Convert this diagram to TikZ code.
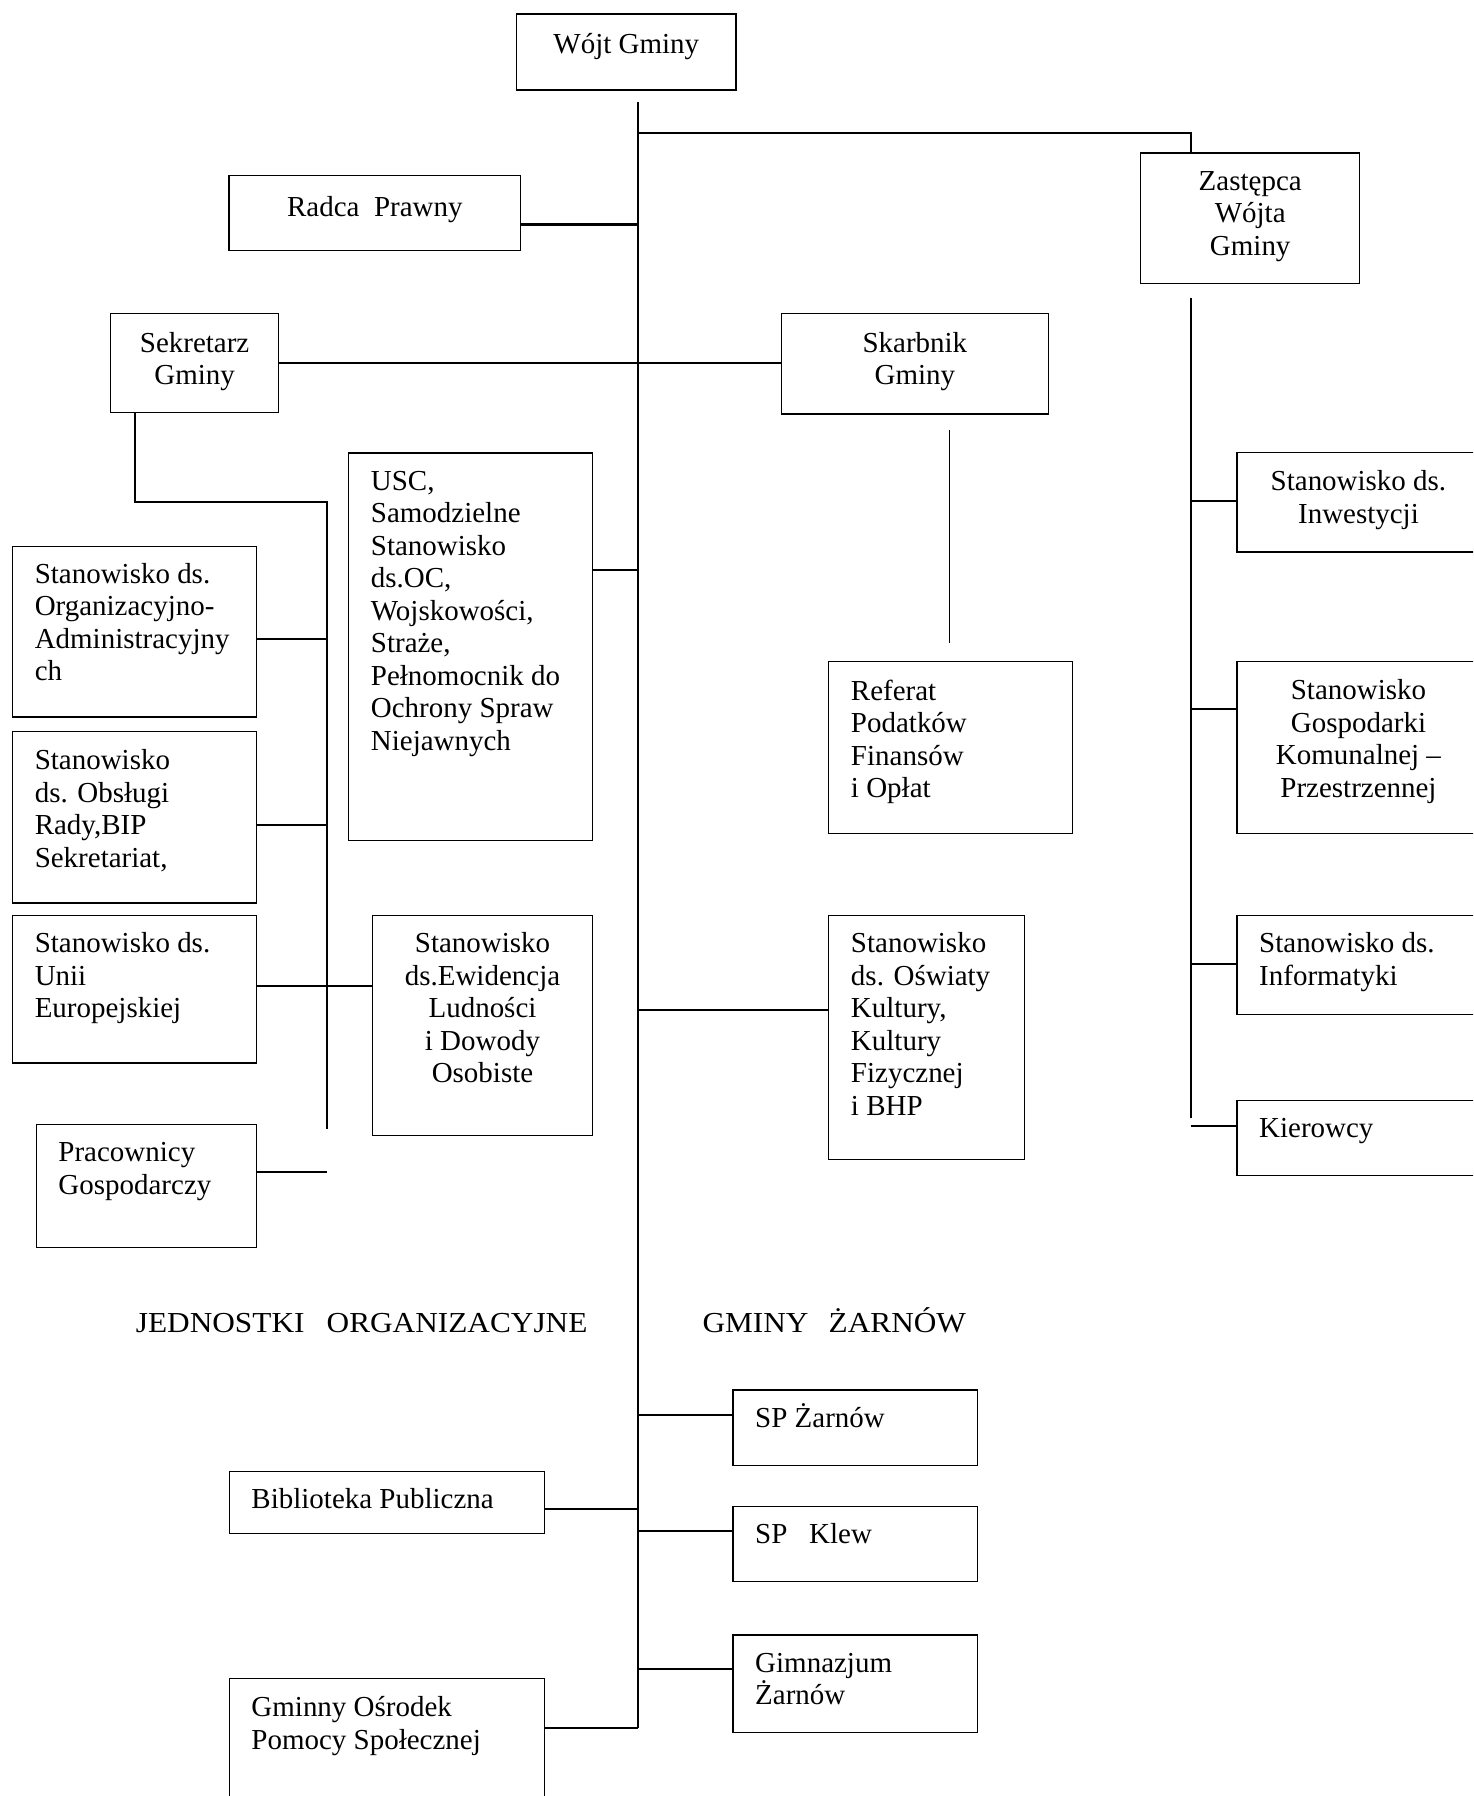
\documentclass[tikz,border=0pt]{standalone}
\usepackage{fontspec}
\setmainfont{Liberation Serif}
\newfontfamily\capsfont{Liberation Serif}[FakeStretch=1.08]
\usetikzlibrary{fit,calc}

\begin{document}
\begin{tikzpicture}[x=0.02cm, y=-0.02cm,
        box/.style={draw, line width=0.6pt, inner sep=0pt, outer sep=0pt},
        txt/.style={inner sep=0pt, font=\fontsize{14.4}{16.15}\selectfont,
            execute at begin node={\rule{0pt}{14pt}}},
        lft/.style={txt, align=left, anchor=north west},
        mid/.style={txt, align=center, anchor=north},
        conn/.style={line width=1pt},
        stub/.style={line width=0.6pt}]
    \useasboundingbox (0,0) rectangle (1286,1568);
    \clip (0,0) rectangle (1286,1568);

    % zarzad
    \node[box, fit={(451,12.2) (642.6,78.6)}] (wojt) {};
    \node[mid] (wojt-t) at ($(wojt.north)+(0,9.3)$) {Wójt Gminy};
    \node[box, fit={(200,153) (454.5,219)}] (radca) {};
    \node[mid] (radca-t) at ($(radca.north)+(0,10.9)$) {Radca\ \ Prawny};
    \node[box, fit={(996,133.6) (1187,247.7)}] (zastepca) {};
    \node[mid] (zastepca-t) at ($(zastepca.north)+(0,15.5)$) {Zastępca\\Wójta\\Gminy};
    \node[box, fit={(96.8,274) (243,360)}] (sekretarz) {};
    \node[mid] (sekretarz-t) at ($(sekretarz.north)+(0,15.5)$) {Sekretarz\\Gminy};
    \node[box, fit={(682,274) (915.5,361.4)}] (skarbnik) {};
    \node[mid] (skarbnik-t) at ($(skarbnik.north)+(0,15.5)$) {Skarbnik\\Gminy};

    % stanowiska
    \node[box, fit={(304.5,395.4) (517,733.7)}] (usc) {};
    \node[lft] (usc-t) at ($(usc.north west)+(19,15.3)$)
        {USC,\\Samodzielne\\Stanowisko\\ds.OC,\\Wojskowości,\\Straże,\\Pełnomocnik do\\Ochrony Spraw\\Niejawnych};
    \node[box, fit={(11,477) (224,626)}] (orgadm) {};
    \node[lft] (orgadm-t) at ($(orgadm.north west)+(19,14.5)$)
        {Stanowisko ds.\\Organizacyjno-\\Administracyjny\\ch};
    \node[box, fit={(11,638.6) (224,788.3)}] (obslugi) {};
    \node[lft] (obslugi-t) at ($(obslugi.north west)+(19,15.3)$)
        {Stanowisko\\ds. Obsługi\\Rady,BIP\\Sekretariat,};
    \node[box, fit={(11,799) (224,928)}] (unii) {};
    \node[lft] (unii-t) at ($(unii.north west)+(19,14.8)$) {Stanowisko ds.\\Unii\\Europejskiej};
    \node[box, fit={(325.5,799) (517,991)}] (ewid) {};
    \node[mid] (ewid-t) at ($(ewid.north)+(0,14.8)$)
        {Stanowisko\\ds.Ewidencja\\Ludności\\i Dowody\\Osobiste};
    \node[box, fit={(31.7,981.6) (223.7,1089.3)}] (prac) {};
    \node[lft] (prac-t) at ($(prac.north west)+(19,15.5)$) {Pracownicy\\Gospodarczy};
    \node[box, fit={(723.6,577.8) (936.3,727.5)}] (referat) {};
    \node[lft] (referat-t) at ($(referat.north west)+(19,15.3)$)
        {Referat\\Podatków\\Finansów\\i Opłat};
    \node[box, fit={(723.6,799) (894.6,1012)}] (oswiaty) {};
    \node[lft] (oswiaty-t) at ($(oswiaty.north west)+(19,14.8)$)
        {Stanowisko\\ds. Oświaty\\Kultury,\\Kultury\\Fizycznej\\i BHP};
    \node[box, fit={(1080,395) (1292,482)}] (inwest) {};
    \node[mid] (inwest-t) at ($(inwest.north)+(0,15.5)$) {Stanowisko ds.\\Inwestycji};
    \node[box, fit={(1080,577.8) (1292,727.5)}] (gospod) {};
    \node[mid] (gospod-t) at ($(gospod.north)+(0,15.3)$)
        {Stanowisko\\Gospodarki\\Komunalnej –\\Przestrzennej};
    \node[box, fit={(1080,799) (1292,885.6)}] (inform) {};
    \node[lft] (inform-t) at ($(inform.north west)+(19,14.8)$) {Stanowisko ds.\\Informatyki};
    \node[box, fit={(1080,961) (1292,1026.4)}] (kier) {};
    \node[lft] (kier-t) at ($(kier.north west)+(19,7.3)$) {Kierowcy};

    % jednostki
    \node[txt, anchor=base west, font=\capsfont\fontsize{14.4}{16.15}\selectfont] (jedn)
        at (118.3,1163.5) {JEDNOSTKI\hspace{11pt}ORGANIZACYJNE};
    \node[txt, anchor=base west, font=\capsfont\fontsize{14.4}{16.15}\selectfont] (gminy)
        at (613,1163.5) {GMINY\hspace{10pt}ŻARNÓW};
    \node[box, fit={(640,1213.6) (853.3,1279.6)}] (spzarnow) {};
    \node[lft] (spzarnow-t) at ($(spzarnow.north west)+(19,7.8)$) {SP Żarnów};
    \node[box, fit={(640,1315) (853.3,1381)}] (spklew) {};
    \node[lft] (spklew-t) at ($(spklew.north west)+(19,7.3)$) {SP\ \ \ Klew};
    \node[box, fit={(640,1427.5) (853.3,1512.4)}] (gimn) {};
    \node[lft] (gimn-t) at ($(gimn.north west)+(19,15.3)$) {Gimnazjum\\Żarnów};
    \node[box, fit={(200.2,1284.6) (475.1,1339)}] (biblio) {};
    \node[lft] (biblio-t) at ($(biblio.north west)+(19,7.7)$) {Biblioteka Publiczna};
    \node[box, fit={(200.2,1465.6) (475.1,1600)}] (gops) {};
    \node[lft] (gops-t) at ($(gops.north west)+(19,15.2)$) {Gminny Ośrodek\\Pomocy Społecznej};

    % linie
    \coordinate (spinetop) at (557,89);
    \coordinate (spinebot) at (557,1509);
    \coordinate (sekbus) at (285.5,438);
    \coordinate (sekbusend) at (285.5,986);
    \coordinate (zastbus) at (1040,260);
    \coordinate (zastbusend) at (1040,976);
    \coordinate (skarbtop) at (829,375);
    \coordinate (skarbbot) at (829,561);

    \draw[conn] (spinetop) -- (spinebot);
    \draw[conn] (spinetop |- 0,116) -- (1040,116) -- (zastepca.north -| 1040,0);
    \draw[conn] (radca.east |- 0,196) -- (spinetop |- 0,196);
    \draw[conn] (sekretarz.east) -- (sekretarz.east -| skarbnik.west);
    \draw[conn] (sekretarz.south -| 118,0) -- (118,438) -- (sekbus) -- (sekbusend);
    \draw[conn] (orgadm.east |- 0,558) -- (sekbus |- 0,558);
    \draw[conn] (obslugi.east |- 0,720.6) -- (sekbus |- 0,720.6);
    \draw[conn] (unii.east |- 0,861) -- (ewid.west |- 0,861);
    \draw[conn] (prac.east |- 0,1023) -- (sekbus |- 0,1023);
    \draw[conn] (usc.east |- 0,498) -- (spinetop |- 0,498);
    \draw[conn] (spinetop |- 0,882) -- (oswiaty.west |- 0,882);
    \draw[stub] (skarbtop) -- (skarbbot);
    \draw[conn] (zastbus) -- (zastbusend);
    \draw[conn] (zastbus |- 0,437.4) -- (inwest.west |- 0,437.4);
    \draw[conn] (zastbus |- 0,618.6) -- (gospod.west |- 0,618.6);
    \draw[conn] (zastbus |- 0,841.3) -- (inform.west |- 0,841.3);
    \draw[conn] (zastbus |- 0,983) -- (kier.west |- 0,983);
    \draw[conn] (spinetop |- 0,1235.4) -- (spzarnow.west |- 0,1235.4);
    \draw[conn] (spinetop |- 0,1336.7) -- (spklew.west |- 0,1336.7);
    \draw[conn] (spinetop |- 0,1457.4) -- (gimn.west |- 0,1457.4);
    \draw[conn] (biblio.east |- 0,1317) -- (spinetop |- 0,1317);
    \draw[conn] (gops.east |- 0,1509) -- (spinebot);
\end{tikzpicture}
\end{document}
